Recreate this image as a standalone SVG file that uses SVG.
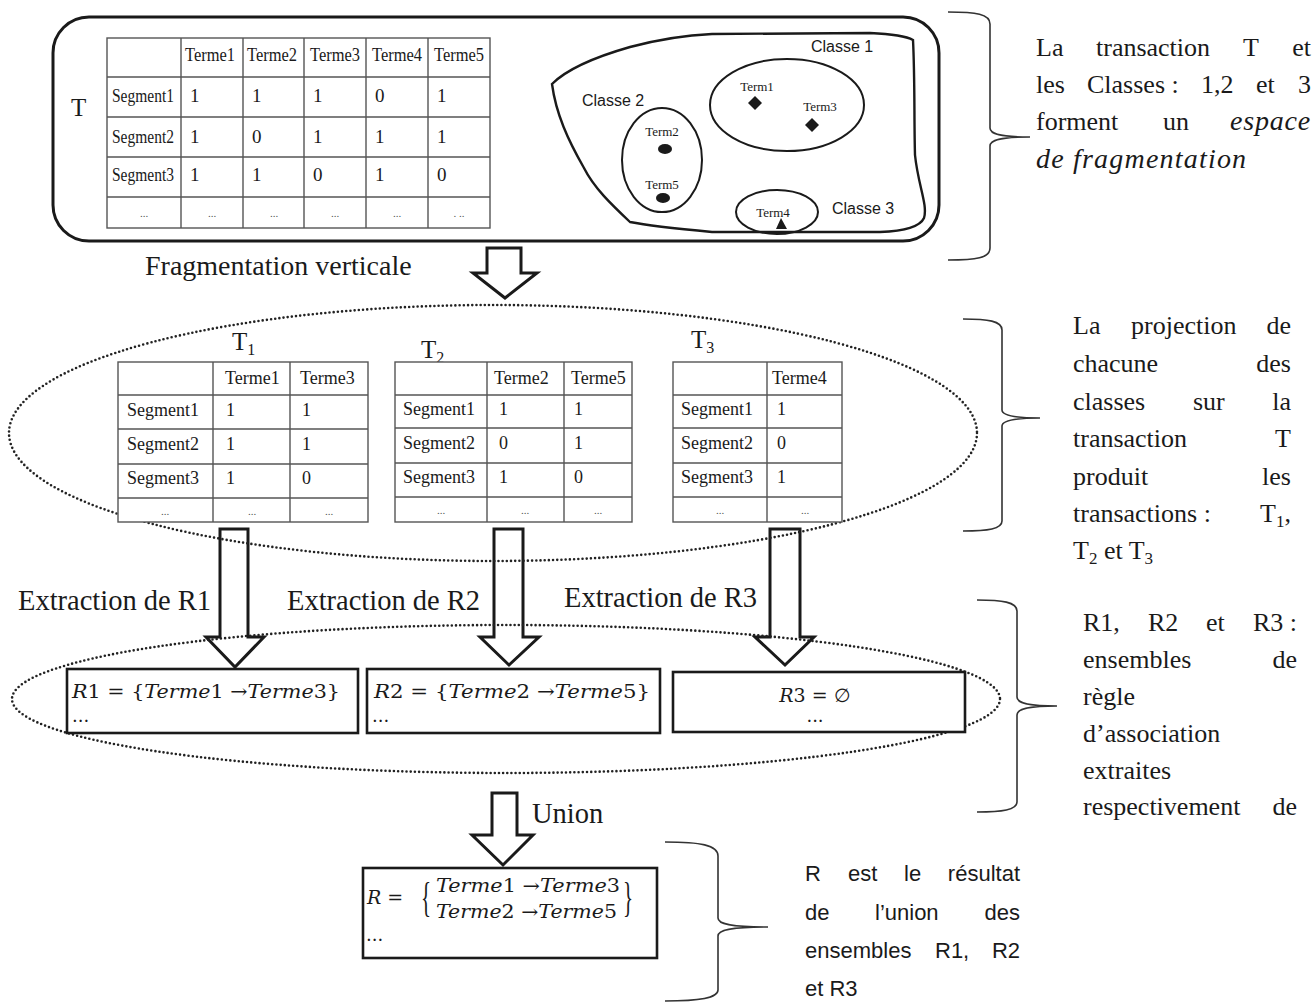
<svg xmlns="http://www.w3.org/2000/svg" width="1314" height="1005" viewBox="0 0 1314 1005">
<style>
.s{font-family:"Liberation Serif","Times New Roman",serif;fill:#1a1a1a}
.a{font-family:"Liberation Sans",Arial,sans-serif;fill:#1a1a1a}
.m{font-family:"DejaVu Serif","Liberation Serif",serif;fill:#1a1a1a}
.i{font-style:italic}
.tb{fill:#fff;stroke:#555;stroke-width:1.4}
.gl{stroke:#555;stroke-width:1.4;fill:none}
.dots{fill:none;stroke:#222;stroke-width:2.6;stroke-dasharray:0 4.2;stroke-linecap:round}
.arr{fill:#fff;stroke:#1a1a1a;stroke-width:3;stroke-linejoin:miter}
.box{fill:#fff;stroke:#1a1a1a;stroke-width:2.6}
.br{fill:none;stroke:#333;stroke-width:1.6}
.tt{font-size:19px}
.mt{font-size:18px}
.rt{font-size:26px}
.d{font-size:11px;fill:#555}
</style>

<!-- Top frame: transaction T and classes -->
<g id="frame-T">
<rect x="53" y="17" width="886" height="224" rx="36" ry="36" fill="#fff" stroke="#1a1a1a" stroke-width="3"/>
<text class="s" x="71" y="116" font-size="25">T</text>
</g>

<g id="table-T">
<rect class="tb" x="107" y="38" width="383" height="190"/>
<path class="gl" d="M107 77H490M107 117H490M107 157H490M107 197H490M181 38V228M243 38V228M304 38V228M366 38V228M428 38V228"/>
<g class="s tt">
<text x="185" y="61" textLength="50" lengthAdjust="spacingAndGlyphs">Terme1</text>
<text x="247" y="61" textLength="50" lengthAdjust="spacingAndGlyphs">Terme2</text>
<text x="310" y="61" textLength="50" lengthAdjust="spacingAndGlyphs">Terme3</text>
<text x="372" y="61" textLength="50" lengthAdjust="spacingAndGlyphs">Terme4</text>
<text x="434" y="61" textLength="50" lengthAdjust="spacingAndGlyphs">Terme5</text>
<text x="112" y="102" textLength="62" lengthAdjust="spacingAndGlyphs">Segment1</text>
<text x="112" y="143" textLength="62" lengthAdjust="spacingAndGlyphs">Segment2</text>
<text x="112" y="181" textLength="62" lengthAdjust="spacingAndGlyphs">Segment3</text>
<text x="190" y="102">1</text><text x="252" y="102">1</text><text x="313" y="102">1</text><text x="375" y="102">0</text><text x="437" y="102">1</text>
<text x="190" y="143">1</text><text x="252" y="143">0</text><text x="313" y="143">1</text><text x="375" y="143">1</text><text x="437" y="143">1</text>
<text x="190" y="181">1</text><text x="252" y="181">1</text><text x="313" y="181">0</text><text x="375" y="181">1</text><text x="437" y="181">0</text>
</g>
<g class="s d" text-anchor="middle">
<text x="144" y="217">...</text><text x="212" y="217">...</text><text x="274" y="217">...</text><text x="335" y="217">...</text><text x="397" y="217">...</text><text x="459" y="217">. ..</text>
</g>
</g>

<g id="classes">
<path d="M552 84C566 70 595 57 630 47C660 39 690 35 712 34L870 33C892 34 906 36 913 40C915 80 914 120 915 155C918 185 928 205 924 218C920 227 905 231 880 232L712 232C680 229 650 226 630 222C612 205 594 188 584 168C568 140 556 114 552 84Z" fill="none" stroke="#1a1a1a" stroke-width="2.4"/>
<ellipse cx="787" cy="105" rx="77" ry="46" fill="none" stroke="#1a1a1a" stroke-width="2"/>
<ellipse cx="662" cy="160" rx="40" ry="52" fill="none" stroke="#1a1a1a" stroke-width="2"/>
<ellipse cx="777" cy="212" rx="41" ry="22" fill="none" stroke="#1a1a1a" stroke-width="2"/>
<g class="a" font-size="16" text-anchor="middle">
<text x="842" y="52">Classe 1</text>
<text x="613" y="106">Classe 2</text>
<text x="863" y="214">Classe 3</text>
</g>
<g class="s" font-size="13" text-anchor="middle">
<text x="757" y="91">Term1</text>
<text x="820" y="111">Term3</text>
<text x="662" y="136">Term2</text>
<text x="662" y="189">Term5</text>
<text x="773" y="217">Term4</text>
</g>
<path d="M755 96L762 103L755 110L748 103Z" fill="#1a1a1a"/>
<path d="M812 118L819 125L812 132L805 125Z" fill="#1a1a1a"/>
<ellipse cx="665" cy="149" rx="7" ry="5" fill="#1a1a1a"/>
<ellipse cx="663" cy="198" rx="7" ry="5" fill="#1a1a1a"/>
<path d="M781 218L776 229L787 229Z" fill="#1a1a1a"/>
</g>

<!-- Connectors: block arrows -->
<g id="connectors">
<path class="arr" d="M487 248H521V273H537L505 298L473 273H487Z"/>
<path class="arr" d="M220 529H248V637H264L235 667L206 637H220Z"/>
<path class="arr" d="M494 529H523V637H539L509 665L480 637H494Z"/>
<path class="arr" d="M770 529H800V637H814L785 665L755 637H770Z"/>
<path class="arr" d="M492 793H517V835H533L503 865L472 835H492Z"/>
</g>

<g id="labels">
<text class="s" x="145" y="275" font-size="28">Fragmentation verticale</text>
<text class="s" x="18" y="610" font-size="28.5">Extraction de R1</text>
<text class="s" x="287" y="610" font-size="28.5">Extraction de R2</text>
<text class="s" x="564" y="607" font-size="28.5">Extraction de R3</text>
<text class="s" x="532" y="823" font-size="28.5">Union</text>
</g>

<g id="group-projection">
<ellipse class="dots" cx="493" cy="433" rx="484" ry="128"/>
</g>
<g id="group-rules">
<ellipse class="dots" cx="506" cy="699" rx="494" ry="74"/>
</g>

<g id="table-T1">
<text class="s" x="232" y="350" font-size="25">T<tspan font-size="16" dy="5">1</tspan></text>
<rect class="tb" x="118" y="362" width="250" height="160"/>
<path class="gl" d="M118 395H368M118 429H368M118 464H368M118 498H368M213 362V522M290 362V522"/>
<g class="s mt">
<text x="225" y="384">Terme1</text><text x="300" y="384">Terme3</text>
<text x="127" y="416">Segment1</text><text x="127" y="450">Segment2</text><text x="127" y="484">Segment3</text>
<text x="226" y="416">1</text><text x="302" y="416">1</text>
<text x="226" y="450">1</text><text x="302" y="450">1</text>
<text x="226" y="484">1</text><text x="302" y="484">0</text>
</g>
<g class="s d" text-anchor="middle"><text x="165" y="515">...</text><text x="252" y="515">...</text><text x="329" y="515">...</text></g>
</g>

<g id="table-T2">
<text class="s" x="421" y="358" font-size="25">T<tspan font-size="16" dy="5">2</tspan></text>
<rect class="tb" x="395" y="362" width="237" height="160"/>
<path class="gl" d="M395 395H632M395 428H632M395 463H632M395 497H632M487 362V522M564 362V522"/>
<g class="s mt">
<text x="494" y="384">Terme2</text><text x="571" y="384">Terme5</text>
<text x="403" y="415">Segment1</text><text x="403" y="449">Segment2</text><text x="403" y="483">Segment3</text>
<text x="499" y="415">1</text><text x="574" y="415">1</text>
<text x="499" y="449">0</text><text x="574" y="449">1</text>
<text x="499" y="483">1</text><text x="574" y="483">0</text>
</g>
<g class="s d" text-anchor="middle"><text x="441" y="514">...</text><text x="525" y="514">...</text><text x="598" y="514">...</text></g>
</g>

<g id="table-T3">
<text class="s" x="691" y="348" font-size="25">T<tspan font-size="16" dy="5">3</tspan></text>
<rect class="tb" x="673" y="362" width="169" height="160"/>
<path class="gl" d="M673 395H842M673 428H842M673 463H842M673 497H842M767 362V522"/>
<g class="s mt">
<text x="772" y="384">Terme4</text>
<text x="681" y="415">Segment1</text><text x="681" y="449">Segment2</text><text x="681" y="483">Segment3</text>
<text x="777" y="415">1</text><text x="777" y="449">0</text><text x="777" y="483">1</text>
</g>
<g class="s d" text-anchor="middle"><text x="720" y="514">...</text><text x="805" y="514">...</text></g>
</g>

<g id="box-R1">
<rect class="box" x="67" y="669" width="291" height="64"/>
<text class="m" x="72" y="698" font-size="19" textLength="268" lengthAdjust="spacingAndGlyphs"><tspan class="i">R</tspan>1 = {<tspan class="i">Terme</tspan>1 →<tspan class="i">Terme</tspan>3}</text>
<text class="m" x="72" y="722" font-size="18">...</text>
</g>
<g id="box-R2">
<rect class="box" x="367" y="669" width="293" height="64"/>
<text class="m" x="374" y="698" font-size="19" textLength="276" lengthAdjust="spacingAndGlyphs"><tspan class="i">R</tspan>2 = {<tspan class="i">Terme</tspan>2 →<tspan class="i">Terme</tspan>5}</text>
<text class="m" x="372" y="722" font-size="18">...</text>
</g>
<g id="box-R3">
<rect class="box" x="673" y="672" width="292" height="60"/>
<text class="m" x="815" y="702" font-size="19" text-anchor="middle"><tspan class="i">R</tspan>3 = ∅</text>
<text class="m" x="815" y="722" font-size="18" text-anchor="middle">...</text>
</g>

<g id="box-R">
<rect class="box" x="363" y="868" width="294" height="90"/>
<text class="m" x="367" y="904" font-size="19"><tspan class="i">R</tspan> =</text>
<text class="s" transform="translate(421 911) scale(0.5 1)" font-size="42">{</text>
<text class="s" transform="translate(623 911) scale(0.5 1)" font-size="42">}</text>
<text class="m i" x="436" y="892" font-size="18" textLength="184" lengthAdjust="spacingAndGlyphs">Terme<tspan font-style="normal">1 →</tspan>Terme<tspan font-style="normal">3</tspan></text>
<text class="m i" x="436" y="918" font-size="18" textLength="181" lengthAdjust="spacingAndGlyphs">Terme<tspan font-style="normal">2 →</tspan>Terme<tspan font-style="normal">5</tspan></text>
<text class="m" x="366" y="941" font-size="18">...</text>
</g>

<g id="braces">
<path class="br" d="M948 12C976 12 990 14 990 24V128C990 134 1000 137 1030 137C1000 137 990 140 990 146V248C990 258 976 260 948 260"/>
<path class="br" d="M963 319C988 319 1002 321 1002 330V410C1002 415 1012 418 1040 418C1012 418 1002 421 1002 426V521C1002 529 988 531 963 531"/>
<path class="br" d="M977 600C1002 600 1017 602 1017 611V697C1017 703 1027 706 1057 706C1027 706 1017 709 1017 715V802C1017 810 1002 812 977 812"/>
<path class="br" d="M665 842C700 842 718 845 718 856V918C718 924 730 927 768 927C730 927 718 930 718 936V990C718 998 700 1001 665 1001"/>
</g>

<g id="note-1" class="s rt">
<text x="1036" y="56">La</text><text x="1096" y="56">transaction</text><text x="1243" y="56">T</text><text x="1311" y="56" text-anchor="end">et</text>
<text x="1036" y="93">les</text><text x="1087" y="93">Classes :</text><text x="1201" y="93">1,2</text><text x="1256" y="93">et</text><text x="1311" y="93" text-anchor="end">3</text>
<text x="1036" y="130">forment</text><text x="1163" y="130">un</text><text x="1311" y="130" text-anchor="end" class="i" font-size="28" letter-spacing="0.8">espace</text>
<text x="1036" y="168" class="i" font-size="28" letter-spacing="1.2">de fragmentation</text>
</g>

<g id="note-2" class="s rt">
<text x="1073" y="334">La</text><text x="1131" y="334">projection</text><text x="1291" y="334" text-anchor="end">de</text>
<text x="1073" y="372">chacune</text><text x="1291" y="372" text-anchor="end">des</text>
<text x="1073" y="410">classes</text><text x="1193" y="410">sur</text><text x="1291" y="410" text-anchor="end">la</text>
<text x="1073" y="447">transaction</text><text x="1291" y="447" text-anchor="end">T</text>
<text x="1073" y="485">produit</text><text x="1291" y="485" text-anchor="end">les</text>
<text x="1073" y="522">transactions :</text><text x="1291" y="522" text-anchor="end">T<tspan font-size="17" dy="5">1</tspan><tspan dy="-5">,</tspan></text>
<text x="1073" y="559">T<tspan font-size="17" dy="5">2</tspan><tspan dy="-5"> et T</tspan><tspan font-size="17" dy="5">3</tspan></text>
</g>

<g id="note-3" class="s rt">
<text x="1083" y="631">R1,</text><text x="1148" y="631">R2</text><text x="1206" y="631">et</text><text x="1297" y="631" text-anchor="end">R3 :</text>
<text x="1083" y="668">ensembles</text><text x="1297" y="668" text-anchor="end">de</text>
<text x="1083" y="705">règle</text>
<text x="1083" y="742">d’association</text>
<text x="1083" y="779">extraites</text>
<text x="1083" y="815">respectivement</text><text x="1297" y="815" text-anchor="end">de</text>
</g>

<g id="note-4" class="a" font-size="22">
<text x="805" y="881">R</text><text x="848" y="881">est</text><text x="904" y="881">le</text><text x="1020" y="881" text-anchor="end">résultat</text>
<text x="805" y="920">de</text><text x="875" y="920">l’union</text><text x="1020" y="920" text-anchor="end">des</text>
<text x="805" y="958">ensembles</text><text x="935" y="958">R1,</text><text x="1020" y="958" text-anchor="end">R2</text>
<text x="805" y="996">et R3</text>
</g>
</svg>
